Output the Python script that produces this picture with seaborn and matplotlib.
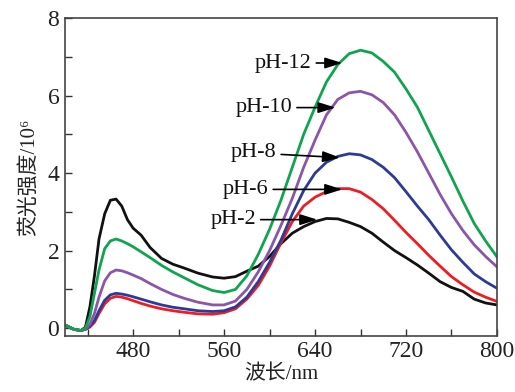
import numpy as np
import pandas as pd
import matplotlib
matplotlib.use('Agg')
import matplotlib.pyplot as plt
from matplotlib.ticker import MultipleLocator
import seaborn as sns

# wavelength grid (nm)
wavelength = [420, 428, 434, 438, 442, 446, 450, 455, 460, 465, 470, 475, 480, 487, 495,
              505, 515, 525, 537, 550, 560, 570, 580, 590, 600, 610, 620, 630, 640, 650,
              660, 670, 680, 690, 700, 710, 720, 730, 740, 750, 760, 770, 780, 790, 800]

# fluorescence intensity (x10^6) per pH
ph2 = [0.08, -0.03, -0.06, 0.02, 0.55, 1.35, 2.30, 2.95, 3.30, 3.33, 3.15, 2.80, 2.58, 2.40, 2.08,
       1.80, 1.65, 1.55, 1.42, 1.32, 1.29, 1.33, 1.47, 1.60, 1.85, 2.18, 2.45, 2.62, 2.75, 2.83,
       2.82, 2.73, 2.62, 2.45, 2.22, 2.00, 1.82, 1.63, 1.42, 1.20, 1.05, 0.95, 0.75, 0.65, 0.60]
ph6 = [0.08, -0.03, -0.06, -0.03, 0.03, 0.15, 0.38, 0.63, 0.77, 0.82, 0.80, 0.76, 0.71, 0.64, 0.57,
       0.50, 0.45, 0.41, 0.37, 0.36, 0.40, 0.50, 0.75, 1.10, 1.60, 2.20, 2.75, 3.15, 3.38, 3.52,
       3.60, 3.60, 3.51, 3.32, 3.08, 2.78, 2.47, 2.18, 1.88, 1.60, 1.33, 1.12, 0.93, 0.80, 0.69]
ph8 = [0.08, -0.03, -0.06, -0.03, 0.05, 0.20, 0.45, 0.72, 0.86, 0.90, 0.88, 0.85, 0.81, 0.75, 0.68,
       0.60, 0.54, 0.50, 0.45, 0.43, 0.45, 0.55, 0.80, 1.20, 1.70, 2.27, 2.95, 3.55, 4.00, 4.28,
       4.43, 4.50, 4.47, 4.35, 4.15, 3.88, 3.52, 3.15, 2.80, 2.40, 2.02, 1.70, 1.40, 1.20, 1.03]
ph10 = [0.08, -0.03, -0.06, -0.02, 0.10, 0.38, 0.80, 1.22, 1.43, 1.50, 1.48, 1.43, 1.37, 1.28, 1.15,
        1.00, 0.87, 0.77, 0.67, 0.60, 0.60, 0.70, 1.00, 1.45, 2.00, 2.65, 3.35, 4.15, 4.85, 5.50,
        5.90, 6.07, 6.11, 6.02, 5.82, 5.50, 5.05, 4.55, 4.00, 3.45, 2.95, 2.52, 2.15, 1.85, 1.58]
ph12 = [0.08, -0.03, -0.06, 0.00, 0.30, 0.90, 1.50, 2.05, 2.25, 2.30, 2.25, 2.18, 2.10, 1.97, 1.82,
        1.62, 1.45, 1.30, 1.12, 0.97, 0.92, 1.00, 1.35, 1.90, 2.55, 3.30, 4.15, 5.00, 5.70, 6.35,
        6.80, 7.08, 7.17, 7.10, 6.88, 6.60, 6.17, 5.70, 5.10, 4.50, 3.90, 3.28, 2.70, 2.25, 1.84]

series_names = ['pH-2', 'pH-6', 'pH-8', 'pH-10', 'pH-12']
series_values = [ph2, ph6, ph8, ph10, ph12]
colors = ['#111111', '#ee1c24', '#2d3a96', '#8a55aa', '#10a450']

df = pd.concat([pd.DataFrame({'wl': wavelength, 'val': v, 'ph': n})
                for n, v in zip(series_names, series_values)], ignore_index=True)

sns.set_style('ticks')
plt.rcParams['font.family'] = ['Liberation Serif', 'Noto Sans CJK SC', 'DejaVu Serif']
plt.rcParams['lines.solid_joinstyle'] = 'round'

fig = plt.figure(figsize=(5.15, 3.92), dpi=100)
ax = fig.add_axes([0.126, 0.143, 0.839, 0.811])

sns.lineplot(data=df, x='wl', y='val', hue='ph', palette=dict(zip(series_names, colors)),
             linewidth=2.0, legend=False, ax=ax)

ax.set_xlim(420, 800)
ax.set_ylim(-0.2, 8)
ax.xaxis.set_major_locator(MultipleLocator(80))
ax.xaxis.set_minor_locator(MultipleLocator(40))
ax.yaxis.set_major_locator(MultipleLocator(2))
ax.yaxis.set_minor_locator(MultipleLocator(1))
ax.tick_params(which='both', direction='in', length=5, width=1, color='#333333',
               labelsize=17, labelcolor='#222222', pad=4)
for s in ax.spines.values():
    s.set_linewidth(1.2)
    s.set_color('#444444')

ax.set_xlabel('波长/nm', fontsize=15, color='#222222', labelpad=2)
ax.set_ylabel('荧光强度/10⁶', fontsize=15, color='#222222', labelpad=6)

# label text position, arrow tip
labels = {
    'pH-12': ((612, 6.84), (664, 6.84)),
    'pH-10': ((595, 5.69), (658, 5.69)),
    'pH-8': ((586, 4.52), (662, 4.40)),
    'pH-6': ((579, 3.58), (664, 3.58)),
    'pH-2': ((568, 2.80), (642, 2.80)),
}
for name, (txt, tip) in labels.items():
    ax.annotate(name, xy=tip, xytext=txt, ha='center', va='center', fontsize=16,
                color='#111111',
                arrowprops=dict(arrowstyle='-|>,head_length=0.7,head_width=0.22',
                                color='black', lw=1.2, mutation_scale=15,
                                shrinkA=1, shrinkB=0))

fig.savefig('out.png', dpi=100)
